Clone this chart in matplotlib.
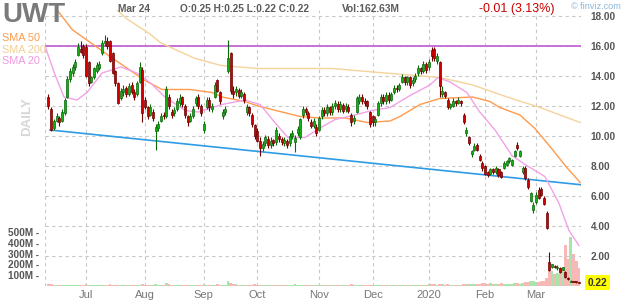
import matplotlib
matplotlib.use("Agg")
import matplotlib.pyplot as plt
import matplotlib.transforms as mtransforms
import numpy as np

# daily candles, 11 Jun 2019 .. 24 Mar 2020
opens = [
    12.6, 11.8, 10.5, 11.0, 11.2, 11.0, 11.5, 12.6, 13.8, 14.2, 14.6, 15.4, 15.8, 16.0,  # jun
    15.9, 14.9, 13.6, 13.9, 14.3, 14.5, 15.5, 16.2, 16.3, 16.3, 15.5, 14.3, 13.5, 12.5, 12.9, 13.2, 12.8, 13.4, 12.9, 12.8, 13.6, 14.4,  # jul
    12.4, 11.9, 11.4, 11.6, 10.3, 10.5, 11.0, 11.4, 11.3, 12.6, 11.6, 11.5, 11.8, 12.2, 12.6, 12.0, 11.3, 11.0, 11.3, 12.2, 12.6, 12.0,  # aug
    10.4, 11.9, 12.4, 11.8, 12.6, 13.7, 12.9, 11.3, 11.6, 14.3, 15.5, 13.0, 12.9, 13.1, 12.7, 12.8, 11.6, 11.9, 11.4, 10.7,  # sep
    10.3, 9.7, 9.2, 9.5, 9.8, 9.4, 9.7, 9.6, 10.0, 9.8, 9.5, 9.7, 9.5, 10.0, 9.6, 10.2, 9.9, 11.4, 11.8, 11.5, 10.9, 10.7, 10.6,  # oct
    10.4, 11.3, 11.7, 11.5, 11.9, 11.6, 12.0, 12.1, 11.8, 12.1, 11.8, 11.9, 11.4, 11.0, 11.6, 12.3, 12.6, 12.3, 12.3, 11.6,  # nov
    11.3, 10.9, 11.4, 12.2, 12.6, 12.3, 12.7, 12.4, 12.9, 13.2, 13.1, 13.6, 13.9, 13.6, 13.9, 13.5, 13.8, 14.2, 14.5, 14.3, 14.8,  # dec
    14.6, 15.7, 15.8, 15.0, 14.9, 12.8, 12.9, 12.4, 11.9, 12.0, 12.3, 12.2, 12.3, 11.4, 10.2, 9.9, 8.8, 9.1, 9.4, 8.7, 8.2,  # jan
    8.0, 7.6, 7.5, 7.8, 7.6, 7.8, 7.6, 7.9, 8.1, 8.3, 8.1, 8.7, 9.4, 8.7, 7.6, 7.9, 7.1, 5.7, 5.1,  # feb
    5.6, 6.4, 6.5, 5.9, 4.9, 1.6, 1.3, 1.35, 1.2, 1.2, 1.1, 0.95, 0.55, 0.30, 0.32, 0.28, 0.25,  # mar
]
closes = [
    12.0, 10.4, 11.0, 11.3, 10.9, 11.6, 12.4, 13.8, 14.3, 14.6, 14.9, 15.9, 15.6, 15.4,
    14.0, 13.5, 13.9, 14.5, 14.7, 14.8, 16.2, 16.3, 16.0, 15.0, 14.2, 13.5, 12.2, 13.0, 13.1, 12.8, 13.3, 12.9, 12.6, 13.5, 14.6, 11.5,
    11.9, 11.3, 11.9, 11.2, 10.6, 10.8, 11.3, 11.3, 13.1, 12.0, 11.4, 11.7, 12.3, 12.5, 12.1, 11.4, 10.9, 11.3, 11.8, 12.5, 12.0, 11.5,
    10.8, 12.4, 11.9, 12.0, 13.4, 13.0, 12.3, 11.6, 11.8, 15.2, 13.0, 12.8, 13.1, 12.7, 12.9, 12.4, 11.9, 11.5, 10.8, 10.0,
    9.7, 9.2, 9.5, 9.9, 9.4, 9.7, 9.5, 10.4, 9.8, 9.6, 9.7, 9.4, 10.0, 10.2, 9.9, 10.5, 11.1, 11.8, 11.6, 11.2, 10.7, 11.0, 10.2,
    11.2, 11.7, 11.5, 11.9, 11.6, 12.0, 12.2, 11.8, 12.1, 11.7, 12.0, 11.7, 10.9, 11.2, 12.5, 12.6, 12.3, 12.2, 12.0, 10.8,
    10.9, 11.1, 12.2, 12.6, 12.3, 12.7, 12.4, 12.8, 13.2, 13.1, 13.4, 13.9, 13.6, 13.9, 13.4, 13.7, 14.0, 14.5, 14.3, 14.8, 14.4,
    14.9, 15.3, 15.2, 15.3, 13.3, 13.0, 12.7, 11.9, 12.1, 12.3, 12.2, 12.4, 12.2, 10.9, 10.4, 9.5, 9.0, 9.3, 9.1, 8.4, 7.9,
    7.5, 7.4, 7.8, 7.6, 7.9, 7.4, 7.3, 8.2, 8.3, 8.5, 8.4, 9.0, 9.2, 9.0, 7.9, 7.2, 6.6, 6.2, 5.4,
    6.1, 5.9, 6.1, 5.5, 3.9, 1.1, 1.45, 1.3, 1.3, 0.95, 1.25, 0.6, 0.45, 0.34, 0.28, 0.24, 0.22,
]
highs = [
    12.8, 11.9, 11.1, 11.5, 11.3, 11.8, 12.5, 14.0, 14.5, 14.8, 15.1, 16.2, 16.3, 16.1,
    16.1, 15.0, 14.0, 14.6, 14.9, 15.0, 16.4, 16.7, 16.6, 16.4, 15.6, 14.4, 13.6, 13.2, 13.4, 13.3, 13.5, 13.6, 13.1, 13.7, 14.9, 14.6,
    12.6, 12.0, 12.1, 11.8, 10.8, 11.0, 11.5, 11.6, 13.3, 12.8, 11.8, 11.9, 12.5, 12.8, 12.7, 12.1, 11.4, 11.5, 12.0, 12.7, 12.8, 12.1,
    11.0, 12.6, 12.6, 12.2, 13.6, 13.8, 13.0, 11.8, 12.0, 16.4, 15.6, 13.3, 13.3, 13.2, 13.1, 12.9, 12.1, 12.0, 11.5, 10.8,
    10.5, 9.9, 9.7, 10.1, 10.0, 9.9, 9.8, 10.6, 10.2, 9.9, 9.9, 9.8, 10.2, 10.4, 10.1, 10.7, 11.2, 12.0, 11.9, 11.7, 11.1, 11.2, 10.8,
    11.3, 11.9, 11.9, 12.1, 12.0, 12.2, 12.4, 12.3, 12.3, 12.2, 12.2, 12.1, 11.5, 11.4, 12.7, 12.8, 12.8, 12.5, 12.4, 11.7,
    11.4, 11.3, 12.3, 12.8, 12.8, 12.9, 12.9, 12.9, 13.4, 13.4, 13.5, 14.1, 14.0, 14.0, 14.0, 13.9, 14.2, 14.7, 14.6, 15.0, 14.9,
    15.1, 15.9, 15.9, 15.5, 15.0, 13.3, 13.0, 12.5, 12.2, 12.5, 12.4, 12.6, 12.4, 11.5, 10.6, 10.0, 9.1, 9.5, 9.5, 8.8, 8.3,
    8.1, 7.7, 7.9, 7.9, 8.0, 7.9, 7.7, 8.3, 8.4, 8.6, 8.5, 9.1, 9.6, 9.1, 8.0, 8.0, 7.2, 6.3, 5.6,
    6.3, 6.6, 6.6, 6.0, 5.0, 2.3, 1.5, 1.4, 1.4, 1.25, 1.3, 1.0, 0.6, 0.38, 0.34, 0.3, 0.25,
]
lows = [
    11.8, 10.3, 10.4, 10.9, 10.7, 10.9, 11.4, 12.5, 13.6, 14.0, 14.4, 15.3, 15.5, 15.2,
    13.9, 13.3, 13.5, 13.8, 14.2, 14.4, 15.4, 16.0, 15.8, 14.9, 14.1, 13.3, 12.1, 12.4, 12.7, 12.6, 12.7, 12.8, 12.4, 12.7, 13.5, 10.9,
    11.8, 11.1, 11.3, 11.0, 9.1, 10.3, 10.9, 11.1, 11.2, 11.8, 11.2, 11.3, 11.7, 12.0, 11.9, 11.2, 10.7, 10.9, 11.2, 12.0, 11.8, 11.3,
    10.2, 11.8, 11.7, 11.6, 12.5, 12.9, 12.1, 11.1, 11.4, 14.2, 12.8, 12.5, 12.7, 12.5, 12.5, 12.2, 11.4, 11.3, 10.6, 9.8,
    9.6, 8.7, 9.0, 9.3, 9.2, 9.2, 9.3, 9.4, 9.6, 9.4, 9.3, 9.2, 9.3, 9.8, 8.9, 10.0, 9.8, 11.2, 11.4, 11.0, 10.5, 10.5, 10.0,
    10.3, 11.1, 11.3, 11.3, 11.4, 11.4, 11.8, 11.6, 11.6, 11.5, 11.6, 11.5, 10.7, 10.8, 11.5, 12.1, 12.1, 12.0, 11.8, 10.6,
    10.7, 10.7, 11.3, 12.0, 12.1, 12.1, 12.2, 12.3, 12.8, 12.9, 13.0, 13.5, 13.4, 13.4, 13.2, 13.3, 13.6, 14.0, 14.1, 14.2, 14.2,
    14.4, 15.0, 15.0, 14.8, 12.6, 12.6, 12.5, 11.8, 11.8, 11.9, 12.0, 12.1, 12.0, 10.8, 10.0, 9.4, 8.6, 9.0, 9.0, 8.3, 7.7,
    7.4, 7.3, 7.4, 7.5, 7.5, 7.3, 7.2, 7.8, 8.0, 8.2, 8.0, 8.6, 9.1, 8.6, 7.5, 7.1, 6.5, 5.6, 4.9,
    5.5, 5.8, 6.0, 5.4, 3.8, 1.0, 1.2, 1.2, 1.1, 0.9, 1.05, 0.55, 0.4, 0.27, 0.26, 0.22, 0.22,
]
# volume in millions
volumes = [
    14, 16, 12, 9, 10, 8, 11, 13, 10, 9, 8, 12, 10, 9,
    14, 11, 9, 8, 10, 8, 12, 9, 10, 14, 11, 12, 13, 9, 8, 10, 9, 8, 11, 9, 10, 15,
    13, 12, 10, 11, 18, 12, 9, 10, 28, 14, 10, 9, 8, 11, 9, 10, 12, 10, 9, 8, 10, 9,
    14, 9, 10, 8, 12, 15, 11, 9, 10, 45, 32, 18, 14, 11, 10, 9, 12, 11, 10, 14,
    10, 13, 9, 11, 12, 10, 9, 13, 11, 10, 9, 8, 12, 10, 14, 9, 13, 11, 10, 9, 10, 8, 11,
    12, 10, 9, 11, 8, 10, 9, 10, 12, 9, 8, 10, 14, 9, 11, 10, 9, 8, 10, 13,
    12, 10, 11, 9, 8, 10, 9, 8, 10, 9, 11, 10, 8, 9, 10, 8, 9, 11, 10, 12, 9,
    14, 16, 18, 12, 22, 15, 13, 14, 12, 11, 10, 12, 11, 18, 17, 20, 22, 19, 18, 21, 24,
    25, 22, 24, 20, 21, 23, 26, 22, 20, 23, 21, 25, 24, 22, 30, 35, 38, 42, 45,
    40, 38, 42, 48, 70, 150, 140, 110, 125, 160, 170, 380, 250, 458, 300, 230, 163,
]

month_starts = [14, 36, 58, 78, 101, 121, 142, 163, 182]
month_labels = ["Jul", "Aug", "Sep", "Oct", "Nov", "Dec", "2020", "Feb", "Mar"]

# moving averages read at a few points along each curve (trading-day index, price)
sma20_idx = [-1.3, 2.4, 5.8, 10.6, 14.4, 20, 27, 33, 38.3, 43.5, 51, 55.8, 64.8, 73.3, 79, 84.5, 89.4,
             95.7, 102, 107, 114.4, 120.7, 127.5, 135, 142.4, 145.4, 149.9, 156.2, 161, 166.7, 173,
             177.9, 185.3, 190.6, 194.3, 198]
sma20_val = [16.0, 14.1, 12.6, 12.4, 12.9, 14.2, 14.6, 14.2, 13.5, 12.6, 11.7, 11.6, 12.1, 12.4, 12.1, 10.9, 9.9,
             9.9, 10.6, 11.1, 11.4, 11.7, 11.9, 12.7, 13.4, 13.9, 13.6, 12.9, 11.6, 10.4, 8.7,
             8.1, 7.3, 5.5, 3.7, 2.7]
sma50_idx = [0.6, 5.4, 8.8, 23, 36, 42.4, 52.8, 61, 64.8, 73.3, 78.2, 93.9, 101.3, 110.7, 119, 127.5,
             131.2, 138.7, 146.1, 158.4, 164.8, 168.5, 176, 181.6, 187.2, 193.5, 198.5]
sma50_val = [19.0, 17.9, 17.1, 15.3, 13.7, 13.1, 13.1, 12.9, 12.6, 12.3, 12.0, 11.3, 11.2, 11.2, 10.9, 11.0,
             11.3, 12.1, 12.5, 12.6, 12.3, 11.9, 11.4, 10.5, 9.3, 7.9, 6.9]
sma200_idx = [22, 29.3, 37.9, 42, 54.3, 64.4, 78, 106, 118.9, 146.1, 158.4, 171.2, 183.5, 198.5]
sma200_val = [19.0, 17.8, 16.8, 16.2, 15.2, 14.7, 14.5, 14.5, 14.3, 13.9, 13.4, 12.6, 11.9, 10.9]

resistance = 16.0
trend_idx = [0.6, 198.8]
trend_val = [10.4, 6.75]

price_ticks = [2, 4, 6, 8, 10, 12, 14, 16, 18]
vol_ticks = [100, 200, 300, 400, 500]

W, H = 625, 304
FONT = ["Liberation Sans", "DejaVu Sans"]
plt.rcParams["font.family"] = FONT

fig = plt.figure(figsize=(W / 100, H / 100), dpi=100)
fig.patch.set_facecolor("white")
rect = [45 / W, 18 / H, 536 / W, 276 / H]


def fpos(x, y):
    return x / W, 1 - y / H


o = np.array(opens)
c = np.array(closes)
hi = np.array(highs)
lo = np.array(lows)
vol = np.array(volumes)
x = np.arange(len(o))
up = c >= o

# volume panel (behind the price panel)
axv = fig.add_axes(rect, zorder=0)
axv.bar(x, vol, width=1.0, color=np.where(up, "#a9e4a9", "#f8b8b8"), linewidth=0)
axv.set_xlim(-1.3, 198.8)
axv.set_ylim(0, 2556)
axv.set_yticks(vol_ticks)
axv.set_yticklabels([f"{v}M -" for v in vol_ticks])
axv.tick_params(axis="y", length=0, pad=4, labelsize=7.2, labelcolor="#555555")
for lab in axv.get_yticklabels():
    lab.set_fontweight("bold")
axv.set_xticks([])
for s in axv.spines.values():
    s.set_visible(False)

ax = fig.add_axes(rect, zorder=1)
ax.patch.set_alpha(0)
ax.set_xlim(-1.3, 198.8)
ax.set_ylim(0, 18.4)
for s in ax.spines.values():
    s.set_visible(False)

grid_kw = dict(color="#c8c8c8", lw=0.8, ls=(0, (3, 3)), zorder=0)
for p in price_ticks:
    ax.axhline(p, **grid_kw)
for m in month_starts + [-1.3, 198.8]:
    ax.axvline(m, **grid_kw)

ax.axhline(resistance, color="#c466d4", lw=1.3, zorder=2)
ax.plot(trend_idx, trend_val, color="#2e9be6", lw=1.2, zorder=2)
ax.plot(sma200_idx, sma200_val, color="#f5d39a", lw=1.0, zorder=2)
ax.plot(sma50_idx, sma50_val, color="#ff9a4c", lw=1.0, zorder=2)
ax.plot(sma20_idx, sma20_val, color="#f2a2e6", lw=1.0, zorder=2)

body_col = np.where(up, "#12b012", "#d00000")
edge_col = np.where(up, "#0a6a0a", "#6e0000")
ax.vlines(x, lo, hi, colors=edge_col, lw=0.8, zorder=3)
bottom = np.minimum(o, c)
height = np.maximum(np.abs(c - o), 0.06)
ax.bar(x, height, bottom=bottom, width=0.75, color=body_col, edgecolor=edge_col,
       linewidth=0.5, zorder=4)

ax.yaxis.tick_right()
ax.set_yticks(price_ticks)
ax.set_yticklabels([f"{p:.2f}" for p in price_ticks])
ax.tick_params(axis="y", length=0, pad=7, labelsize=7.2, labelcolor="#555555")
for lab in ax.get_yticklabels():
    lab.set_fontweight("bold")
ax.set_xticks(month_starts)
ax.set_xticklabels(month_labels)
ax.tick_params(axis="x", length=0, pad=3, labelsize=8, labelcolor="#777777")

last_tr = mtransforms.blended_transform_factory(ax.transAxes, ax.transData)
ax.text(1.013, closes[-1], f"{closes[-1]:.2f}", transform=last_tr, ha="left", va="center",
        fontsize=7.2, fontweight="bold", color="#333333",
        bbox=dict(boxstyle="square,pad=0.25", fc="#ffff00", ec="none"))

# header and legend text
fig.text(*fpos(2, 15), "UWT", fontsize=20, fontweight="bold", color="#7a7a7a", va="center")
fig.text(*fpos(2, 38), "SMA 50", fontsize=7.8, color="#ff9a4c", va="center")
fig.text(*fpos(2, 50), "SMA 200", fontsize=7.8, color="#f2cf95", va="center")
fig.text(*fpos(2, 61), "SMA 20", fontsize=7.8, color="#ef98e2", va="center")
fig.text(*fpos(27, 117), "DAILY", fontsize=9.6, fontweight="bold", color="#d6d6d6",
         rotation=90, ha="center", va="center")
hdr = dict(fontsize=7.3, fontweight="bold", color="#5a5a5a", va="center")
fig.text(*fpos(118, 9), "Mar 24", **hdr)
fig.text(*fpos(180, 9), "O:0.25 H:0.25 L:0.22 C:0.22", **hdr)
fig.text(*fpos(342, 9), "Vol:162.63M", **hdr)
fig.text(*fpos(479, 9), "-0.01 (3.13%)", fontsize=9, color="#cc0000", va="center")
fig.text(*fpos(571, 6.5), "© finviz.com", fontsize=6.6, color="#8ab6dc", va="center")

fig.savefig("out.png", dpi=100)
